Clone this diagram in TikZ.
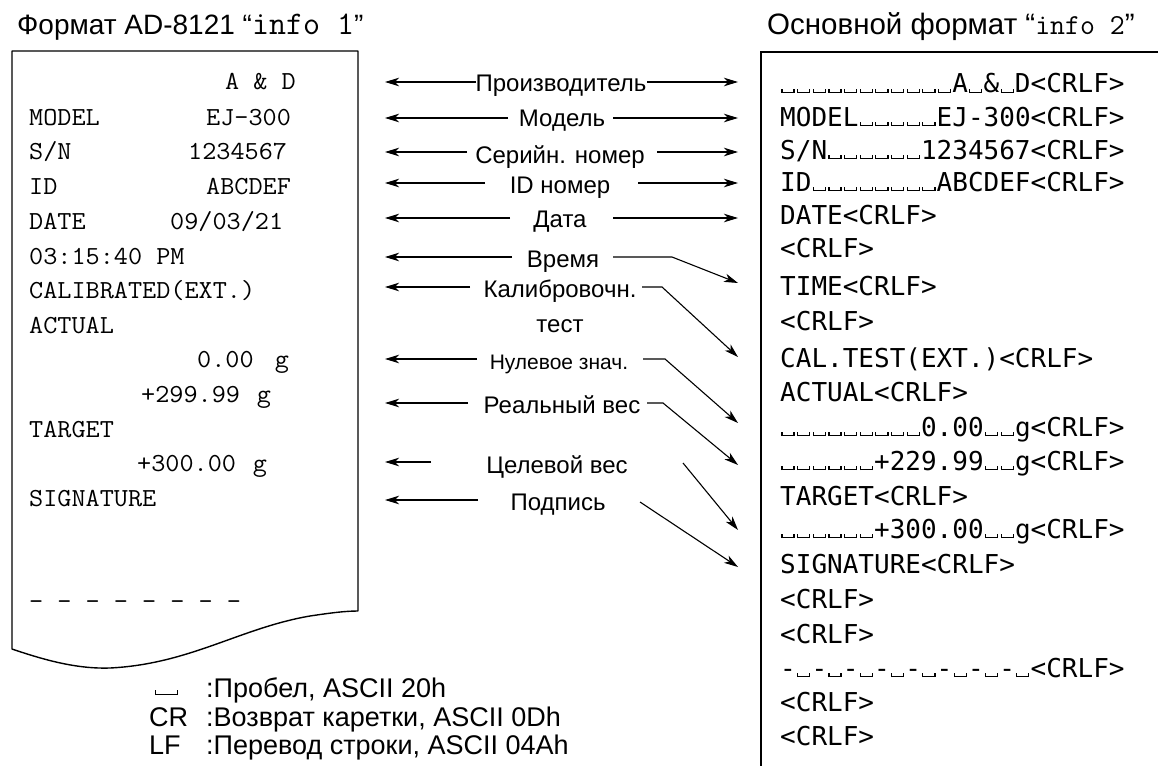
\documentclass[tikz,border=0pt]{standalone}
\usepackage{fontspec}
\setmainfont{Liberation Sans}
\newfontfamily\rmono{DejaVu Sans Mono}
\usetikzlibrary{arrows.meta}
\newcommand\fs[1]{\fontsize{#1}{#1}\selectfont}
\newcommand\sq{\makebox[0.602em][c]{\rule{0.045em}{0.16em}\rule{0.42em}{0.045em}\rule{0.045em}{0.16em}}}
\newcommand\cw[1]{\scalebox{1.055}[1]{#1}}
\tikzset{
  lm/.style={font=\fs{26}\ttfamily, anchor=base west, inner sep=0pt},
  rmn/.style={font=\fs{26}\rmono, anchor=base west, inner sep=0pt},
  lbl/.style={font=\fs{24}, anchor=base, inner sep=0pt},
  leg/.style={font=\fs{27}, anchor=base west, inner sep=0pt},
  ttl/.style={font=\fs{28}, anchor=base west, inner sep=0pt},
  arr/.style={line width=1.1pt, -{Stealth[length=14pt,width=8.5pt,inset=4pt]}},
}
\begin{document}
\begin{tikzpicture}[x=1pt,y=-1pt]
\path[use as bounding box] (0,0) rectangle (1158,765);

% titles
\node[ttl] (t1) at (17,35) {Формат AD-8121 “{\fs{33}\ttfamily info 1}”};
\node[ttl, font=\fs{29.5}] (t2) at (767,35) {Основной формат “{\fs{29}\ttfamily info 2}”};

% left printout
\draw[line width=1.4pt, line join=round] (12,51) -- (358,51) -- (358,611)
  .. controls (345,611) and (330,613) .. (310,616)
  .. controls (240,628) and (190,664) .. (110,668)
  .. controls (80,669) and (50,662) .. (12,649) -- cycle;

\node[lm] (p1) at (225,90) {\cw{A \& D}};
\node[lm] (p2a) at (29,125) {\cw{MODEL}};
\node[lm] (p2b) at (206,125) {\cw{EJ-300}};
\node[lm] (p3a) at (29,159) {\cw{S/N}};
\node[lm] (p3b) at (188,159) {\cw{1234567}};
\node[lm] (p4a) at (29,194) {\cw{ID}};
\node[lm] (p4b) at (206,194) {\cw{ABCDEF}};
\node[lm] (p5a) at (29,229) {\cw{DATE}};
\node[lm] (p5b) at (170,229) {\cw{09/03/21}};
\node[lm] (p6) at (29,264) {\cw{03:15:40 PM}};
\node[lm] (p7) at (29,298) {\cw{CALIBRATED(EXT.)}};
\node[lm] (p8) at (29,333) {\cw{ACTUAL}};
\node[lm] (p9) at (197,367) {\cw{0.00\hspace{20pt}g}};
\node[lm] (p10) at (141,402) {\cw{+299.99\hspace{16pt}g}};
\node[lm] (p11) at (29,437) {\cw{TARGET}};
\node[lm] (p12) at (137,471) {\cw{+300.00\hspace{16pt}g}};
\node[lm] (p13) at (29,506) {\cw{SIGNATURE}};
\node[lm] (p14) at (29,609) {\cw{- - - - - - - -}};

% right printout
\draw[line width=2pt] (1160,52) -- (761,52) -- (761,767);
\node[rmn] (r1) at (780,93) {\sq\sq\sq\sq\sq\sq\sq\sq\sq\sq\sq A\sq\&\sq D<CRLF>};
\node[rmn] (r2) at (780,126) {MODEL\sq\sq\sq\sq\sq EJ-300<CRLF>};
\node[rmn] (r3) at (780,159) {S/N\sq\sq\sq\sq\sq\sq 1234567<CRLF>};
\node[rmn] (r4) at (780,191) {ID\sq\sq\sq\sq\sq\sq\sq\sq ABCDEF<CRLF>};
\node[rmn] (r5) at (780,224) {DATE<CRLF>};
\node[rmn] (r6) at (780,257) {<CRLF>};
\node[rmn] (r7) at (780,295) {TIME<CRLF>};
\node[rmn] (r8) at (780,330) {<CRLF>};
\node[rmn] (r9) at (780,367) {CAL.TEST(EXT.)<CRLF>};
\node[rmn] (r10) at (780,401) {ACTUAL<CRLF>};
\node[rmn] (r11) at (780,436) {\sq\sq\sq\sq\sq\sq\sq\sq\sq 0.00\sq\sq g<CRLF>};
\node[rmn] (r12) at (780,470) {\sq\sq\sq\sq\sq\sq +229.99\sq\sq g<CRLF>};
\node[rmn] (r13) at (780,505) {TARGET<CRLF>};
\node[rmn] (r14) at (780,538) {\sq\sq\sq\sq\sq\sq +300.00\sq\sq g<CRLF>};
\node[rmn] (r15) at (780,573) {SIGNATURE<CRLF>};
\node[rmn] (r16) at (780,608) {<CRLF>};
\node[rmn] (r17) at (780,643) {<CRLF>};
\node[rmn] (r18) at (780,677) {-\sq-\sq-\sq-\sq-\sq-\sq-\sq-\sq<CRLF>};
\node[rmn] (r19) at (780,711) {<CRLF>};
\node[rmn] (r20) at (780,745) {<CRLF>};

% middle labels
\node[lbl] (m1) at (561,92) {Производитель};
\node[lbl] (m2) at (562,127) {Модель};
\node[lbl] (m3) at (560,163) {Серийн. номер};
\node[lbl] (m4) at (560,193) {ID номер};
\node[lbl] (m5) at (560,227) {Дата};
\node[lbl] (m6) at (563,267) {Время};
\node[lbl] (m7) at (560,297) {Калибровочн.};
\node[lbl] (m7b) at (560,332) {тест};
\node[lbl, font=\fs{21}] (m8) at (559,369) {Нулевое знач.};
\node[lbl] (m9) at (562,413) {Реальный вес};
\node[lbl] (m10) at (557,473) {Целевой вес};
\node[lbl] (m11) at (558,510) {Подпись};

% left arrows
\foreach \n/\y/\s in {1/82/476, 2/118/508, 3/152/467, 4/183/485, 5/218/510,
  6/257/512, 7/287/470, 8/359/477, 9/403/468, 10/462/431, 11/500/478}{
  \coordinate (ls\n) at (\s,\y);
  \coordinate (lt\n) at (385,\y);
  \draw[arr] (ls\n) -- (lt\n);
}
% right straight arrows
\foreach \n/\y/\s in {1/82/647, 2/118/613, 3/152/657, 4/183/638, 5/218/613}{
  \coordinate (rs\n) at (\s,\y);
  \coordinate (rt\n) at (738,\y);
  \draw[arr] (rs\n) -- (rt\n);
}
% right bent arrows
\coordinate (rs6) at (613,257); \coordinate (rb6) at (672,257); \coordinate (rt6) at (738,283);
\coordinate (rs7) at (642,287); \coordinate (rb7) at (662,287); \coordinate (rt7) at (738,357);
\coordinate (rs8) at (643,359); \coordinate (rb8) at (665,359); \coordinate (rt8) at (738,423);
\coordinate (rs9) at (647,403); \coordinate (rb9) at (663,403); \coordinate (rt9) at (738,465);
\coordinate (rs10) at (683,463); \coordinate (rt10) at (738,530);
\coordinate (rs11) at (640,502); \coordinate (rt11) at (738,567);
\draw[arr] (rs6) -- (rb6) -- (rt6);
\draw[arr] (rs7) -- (rb7) -- (rt7);
\draw[arr] (rs8) -- (rb8) -- (rt8);
\draw[arr] (rs9) -- (rb9) -- (rt9);
\draw[arr] (rs10) -- (rt10);
\draw[arr] (rs11) -- (rt11);

% legend
\node[anchor=base west, inner sep=0pt] (g0) at (155,695) {\rule{0.8pt}{5pt}\rule{21.4pt}{0.8pt}\rule{0.8pt}{5pt}};
\node[leg] (g1) at (206,697) {:Пробел, ASCII 20h};
\node[leg] (g2a) at (149,726) {CR};
\node[leg] (g2) at (206,726) {:Возврат каретки, ASCII 0Dh};
\node[leg] (g3a) at (149,754) {LF};
\node[leg] (g3) at (206,754) {:Перевод строки, ASCII 04Ah};
\end{tikzpicture}
\end{document}
